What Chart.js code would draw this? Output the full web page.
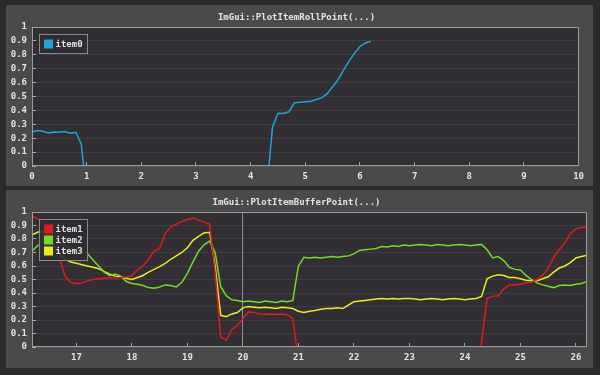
<!DOCTYPE html>
<html>
<head>
<meta charset="utf-8">
<script src="https://cdn.jsdelivr.net/npm/chart.js@4.4.1/dist/chart.umd.min.js"></script>
<style>
  html, body { margin: 0; padding: 0; background: #2b2b2b; width: 600px; height: 375px; overflow: hidden; }
  .panel { position: absolute; left: 6px; width: 587px; background: #4a4a4a; }
  #panelTop { top: 5px; height: 181px; }
  #panelBottom { top: 190px; height: 178px; }
  canvas { display: block; }
</style>
</head>
<body>
<div class="panel" id="panelTop"><canvas id="rollChart" width="587" height="181"></canvas></div>
<div class="panel" id="panelBottom"><canvas id="bufferChart" width="587" height="178"></canvas></div>
<script>
// titles and tick labels
const rollTitle = 'ImGui::PlotItemRollPoint(...)';
const bufferTitle = 'ImGui::PlotItemBufferPoint(...)';
const yTicks = [0, 0.1, 0.2, 0.3, 0.4, 0.5, 0.6, 0.7, 0.8, 0.9, 1];
const rollXTicks = [0, 1, 2, 3, 4, 5, 6, 7, 8, 9, 10];
const bufferXTicks = [17, 18, 19, 20, 21, 22, 23, 24, 25, 26];

// top plot: rolling buffer (time 0..6.2)
const rollTime = [
  0, 0.1, 0.2, 0.3, 0.4, 0.5, 0.6, 0.7, 0.8, 0.9,
  1, 1.1, 1.2, 1.3, 1.4, 1.5, 1.6, 1.7, 1.8, 1.9,
  2, 2.1, 2.2, 2.3, 2.4, 2.5, 2.6, 2.7, 2.8, 2.9,
  3, 3.1, 3.2, 3.3, 3.4, 3.5, 3.6, 3.7, 3.8, 3.9,
  4, 4.1, 4.2, 4.3, 4.4, 4.5, 4.6, 4.7, 4.8, 4.9,
  5, 5.1, 5.2, 5.3, 5.4, 5.5, 5.6, 5.7, 5.8, 5.9,
  6, 6.1, 6.2
];
const item0 = [
  0.245, 0.255, 0.25, 0.238, 0.245, 0.242, 0.248, 0.236, 0.243, 0.16,
  -0.2, null, null, null, null, null, null, null, null, null,
  null, null, null, null, null, null, null, null, null, null,
  null, null, null, null, null, null, null, null, null, null,
  null, null, null, -0.15, 0.28, 0.38, 0.378, 0.39, 0.455, 0.458,
  0.462, 0.465, 0.478, 0.49, 0.52, 0.57, 0.62, 0.69, 0.755, 0.81,
  0.86, 0.885, 0.897
];

// bottom plot: scrolling buffer (time 16.2..26.2)
const bufferTime = [
  16.2, 16.3, 16.4, 16.5, 16.6, 16.7, 16.8, 16.9, 17.0, 17.1,
  17.2, 17.3, 17.4, 17.5, 17.6, 17.7, 17.8, 17.9, 18.0, 18.1,
  18.2, 18.3, 18.4, 18.5, 18.6, 18.7, 18.8, 18.9, 19.0, 19.1,
  19.2, 19.3, 19.4, 19.5, 19.6, 19.7, 19.8, 19.9, 20.0, 20.1,
  20.2, 20.3, 20.4, 20.5, 20.6, 20.7, 20.8, 20.9, 21.0, 21.1,
  21.2, 21.3, 21.4, 21.5, 21.6, 21.7, 21.8, 21.9, 22.0, 22.1,
  22.2, 22.3, 22.4, 22.5, 22.6, 22.7, 22.8, 22.9, 23.0, 23.1,
  23.2, 23.3, 23.4, 23.5, 23.6, 23.7, 23.8, 23.9, 24.0, 24.1,
  24.2, 24.3, 24.4, 24.5, 24.6, 24.7, 24.8, 24.9, 25.0, 25.1,
  25.2, 25.3, 25.4, 25.5, 25.6, 25.7, 25.8, 25.9, 26.0, 26.1,
  26.2
];
const item1 = [
  0.97, 0.95, 0.93, 0.9, 0.8, 0.65, 0.52, 0.48, 0.47, 0.475,
  0.49, 0.5, 0.505, 0.51, 0.515, 0.51, 0.515, 0.52, 0.53, 0.57,
  0.6, 0.65, 0.71, 0.73, 0.84, 0.89, 0.91, 0.93, 0.945, 0.955,
  0.94, 0.925, 0.91, 0.55, 0.075, 0.05, 0.13, 0.16, 0.21, 0.26,
  0.255, 0.245, 0.24, 0.245, 0.24, 0.245, 0.24, 0.21, -0.1, null,
  null, null, null, null, null, null, null, null, null, null,
  null, null, null, null, null, null, null, null, null, null,
  null, null, null, null, null, null, null, null, null, null,
  -0.3, 0.04, 0.36, 0.375, 0.38, 0.43, 0.46, 0.46, 0.465, 0.475,
  0.48, 0.5, 0.53, 0.58, 0.665, 0.72, 0.77, 0.84, 0.875, 0.885,
  0.89
];
const item2 = [
  0.71, 0.75, 0.78, 0.8, 0.79, 0.77, 0.75, 0.73, 0.73, 0.72,
  0.69, 0.645, 0.6, 0.555, 0.53, 0.54, 0.525, 0.485, 0.47, 0.465,
  0.455, 0.44, 0.435, 0.445, 0.46, 0.455, 0.445, 0.48, 0.545, 0.63,
  0.71, 0.757, 0.785, 0.7, 0.447, 0.38, 0.35, 0.345, 0.335, 0.34,
  0.335, 0.33, 0.34, 0.335, 0.33, 0.34, 0.335, 0.345, 0.6, 0.665,
  0.66, 0.665, 0.66, 0.665, 0.67, 0.665, 0.67, 0.675, 0.69, 0.715,
  0.72, 0.725, 0.73, 0.745, 0.74, 0.75, 0.745, 0.755, 0.75, 0.755,
  0.76, 0.755, 0.75, 0.76, 0.755, 0.75, 0.755, 0.76, 0.755, 0.75,
  0.755, 0.76, 0.72, 0.66, 0.67, 0.64, 0.59, 0.575, 0.57, 0.53,
  0.5, 0.475, 0.46, 0.45, 0.44, 0.455, 0.46, 0.455, 0.465, 0.47,
  0.485
];
const item3 = [
  0.83, 0.85, 0.86, 0.82, 0.75, 0.68, 0.65, 0.63, 0.62, 0.61,
  0.6, 0.59, 0.58, 0.56, 0.54, 0.525, 0.52, 0.51, 0.5, 0.515,
  0.53, 0.555, 0.575, 0.595, 0.62, 0.65, 0.675, 0.7, 0.735, 0.79,
  0.82, 0.845, 0.85, 0.6, 0.235, 0.225, 0.245, 0.255, 0.29, 0.3,
  0.295, 0.29, 0.295, 0.29, 0.285, 0.295, 0.29, 0.285, 0.265, 0.255,
  0.265, 0.27, 0.28, 0.285, 0.285, 0.29, 0.285, 0.31, 0.335, 0.34,
  0.345, 0.35, 0.355, 0.36, 0.355, 0.36, 0.355, 0.36, 0.36, 0.355,
  0.35, 0.355, 0.36, 0.355, 0.35, 0.355, 0.36, 0.355, 0.35, 0.355,
  0.36, 0.375, 0.505, 0.525, 0.535, 0.53, 0.515, 0.515, 0.505, 0.495,
  0.49, 0.49, 0.505, 0.52, 0.555, 0.585, 0.6, 0.625, 0.66, 0.67,
  0.68
];

const monoFont = "'DejaVu Sans Mono', 'Liberation Mono', monospace";
const textColor = '#e4e4e4';
const plotBg = '#312f33';
const frameColor = '#9c9c9c';

const toPoints = function (xs, ys) {
  return xs.map((x, i) => ({ x: x, y: ys[i] }));
};

// plot background, frame and the boxed legend drawn on top of the lines
const plotFrame = {
  id: 'plotFrame',
  beforeDraw(chart) {
    const a = chart.chartArea;
    chart.ctx.save();
    chart.ctx.fillStyle = plotBg;
    chart.ctx.fillRect(a.left, a.top, a.right - a.left, a.bottom - a.top);
    chart.ctx.restore();
  },
  afterDatasetsDraw(chart) {
    const ctx = chart.ctx;
    const a = chart.chartArea;
    const sets = chart.data.datasets;
    ctx.save();
    ctx.strokeStyle = frameColor;
    ctx.lineWidth = 1;
    ctx.strokeRect(Math.round(a.left) + 0.5, Math.round(a.top) + 0.5,
      Math.round(a.right - a.left) - 1, Math.round(a.bottom - a.top) - 1);

    ctx.font = `bold 9px ${monoFont}`;
    let textW = 0;
    for (const ds of sets) textW = Math.max(textW, ctx.measureText(ds.label).width);
    const x0 = Math.round(a.left) + 7.5;
    const y0 = Math.round(a.top) + 7.5;
    const w = Math.round(5 + 9 + 3 + textW + 4);
    const h = 10 + sets.length * 11 - 2;
    ctx.fillStyle = 'rgba(46,45,49,0.92)';
    ctx.fillRect(x0, y0, w, h);
    ctx.strokeStyle = '#8a8a8a';
    ctx.strokeRect(x0, y0, w, h);
    ctx.textBaseline = 'middle';
    sets.forEach((ds, i) => {
      const cy = y0 + 5 + i * 11 + 4.5;
      ctx.fillStyle = ds.borderColor;
      ctx.fillRect(x0 + 4.5, cy - 4.5, 9, 9);
      ctx.fillStyle = textColor;
      ctx.fillText(ds.label, x0 + 16, cy + 0.5);
    });
    ctx.restore();
  }
};

const makeOptions = function (title, xMin, xMax, xTicks, markedX, xHeight) {
  return {
    responsive: false,
    animation: false,
    layout: { autoPadding: false, padding: { left: 0, right: 6, top: 0, bottom: 0 } },
    plugins: {
      legend: { display: false },
      tooltip: { enabled: false },
      title: {
        display: true,
        text: title,
        color: textColor,
        font: { family: monoFont, size: 9, weight: 'bold' },
        padding: { top: 7, bottom: 4.2 }
      }
    },
    scales: {
      x: {
        type: 'linear',
        min: xMin,
        max: xMax,
        afterBuildTicks: s => { s.ticks = xTicks.map(v => ({ value: v })); },
        afterFit: s => { s.height = xHeight; },
        border: { display: false },
        grid: {
          color: c => (c.tick && c.tick.value === markedX ? '#8e8e8e' : 'rgba(0,0,0,0)'),
          tickColor: '#a8a8a8',
          tickLength: -4
        },
        ticks: {
          color: textColor,
          font: { family: monoFont, size: 9, weight: 'bold' },
          padding: 9,
          maxRotation: 0,
          autoSkip: false,
          callback: v => String(v)
        }
      },
      y: {
        type: 'linear',
        min: 0,
        max: 1,
        afterBuildTicks: s => { s.ticks = yTicks.map(v => ({ value: v })); },
        afterFit: s => { s.width = 26; },
        border: { display: false },
        grid: {
          color: 'rgba(255,255,255,0.07)',
          tickColor: '#a8a8a8',
          tickLength: -4
        },
        ticks: {
          color: textColor,
          font: { family: monoFont, size: 9, weight: 'bold' },
          padding: 9,
          autoSkip: false,
          callback: v => String(v)
        }
      }
    }
  };
};

const lineSet = function (label, color, points) {
  return {
    label: label,
    data: points,
    borderColor: color,
    backgroundColor: color,
    borderWidth: 1.5,
    pointRadius: 0,
    tension: 0,
    spanGaps: false
  };
};

document.addEventListener('DOMContentLoaded', function () {
  new Chart(document.getElementById('rollChart'), {
    type: 'line',
    data: { datasets: [lineSet('item0', '#1ea4dc', toPoints(rollTime, item0))] },
    options: makeOptions(rollTitle, 0, 10, rollXTicks, null, 20),
    plugins: [plotFrame]
  });

  new Chart(document.getElementById('bufferChart'), {
    type: 'line',
    data: {
      datasets: [
        lineSet('item1', '#e41a1c', toPoints(bufferTime, item1)),
        lineSet('item2', '#72dc1e', toPoints(bufferTime, item2)),
        lineSet('item3', '#ecec1c', toPoints(bufferTime, item3))
      ]
    },
    options: makeOptions(bufferTitle, 16.2, 26.2, bufferXTicks, 20, 21),
    plugins: [plotFrame]
  });
});
</script>
</body>
</html>
